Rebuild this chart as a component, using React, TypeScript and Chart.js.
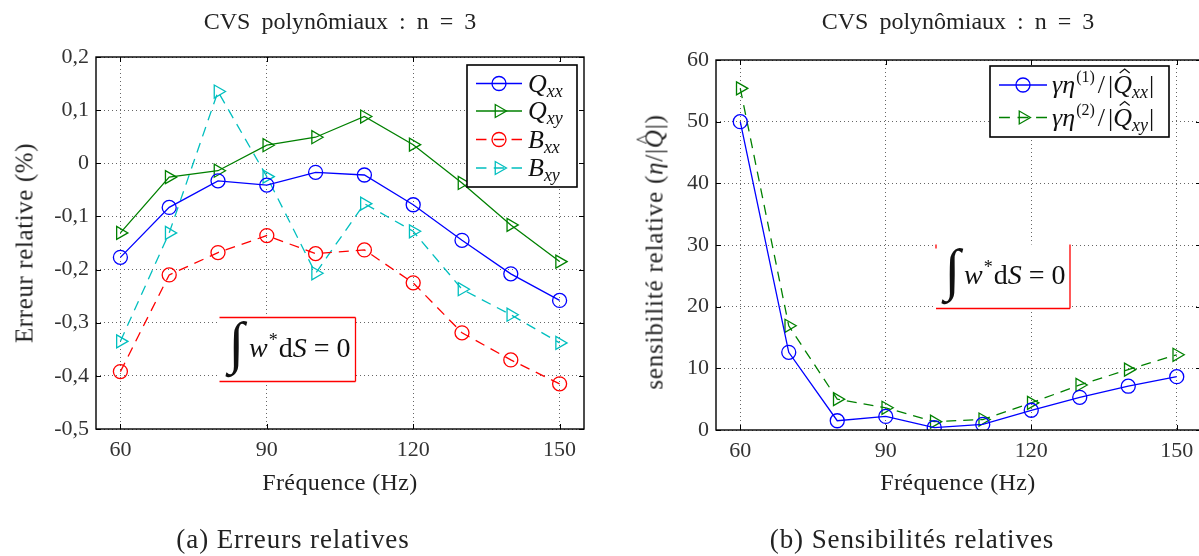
import React, { useEffect, useRef } from 'react';
import { Chart, registerables } from 'chart.js';
Chart.register(...registerables);

const FONT = '"Liberation Serif", "Times New Roman", serif';
const TXT = '#222';

// ---------- data ----------
const frequencies = [60, 70, 80, 90, 100, 110, 120, 130, 140, 150];
const freqTicks = [60, 90, 120, 150];
const errQxx = [-0.177, -0.083, -0.033, -0.041, -0.017, -0.022, -0.078, -0.145, -0.208, -0.258];
const errQxy = [-0.131, -0.026, -0.014, 0.034, 0.049, 0.088, 0.035, -0.037, -0.116, -0.185];
const errBxx = [-0.392, -0.21, -0.168, -0.136, -0.17, -0.163, -0.225, -0.319, -0.37, -0.415];
const errBxy = [-0.335, -0.131, 0.135, -0.025, -0.207, -0.076, -0.128, -0.237, -0.285, -0.338];
const sensQxx = [50.0, 12.6, 1.5, 2.2, 0.4, 0.9, 3.2, 5.3, 7.1, 8.65];
const sensQxy = [55.4, 16.9, 5.0, 3.6, 1.35, 1.7, 4.4, 7.3, 9.8, 12.2];
const errTicks = [-0.5, -0.4, -0.3, -0.2, -0.1, 0, 0.1, 0.2];
const sensTicks = [0, 10, 20, 30, 40, 50, 60];

const BLUE = '#0000ff';
const GREEN = '#008000';
const RED = '#ff0000';
const CYAN = '#00bfbf';
const DASH = [10, 7];
const CIRCLE_R = 7;
const TRI_R = 7.5;

type Seg = { t: string; size: number; italic?: boolean; dy?: number; dx?: number; hat?: boolean };

function drawSegs(ctx: CanvasRenderingContext2D, x: number, y: number, segs: Seg[], color = '#000') {
  ctx.textBaseline = 'alphabetic';
  ctx.textAlign = 'left';
  ctx.fillStyle = color;
  for (const s of segs) {
    x += s.dx || 0;
    ctx.font = `${s.italic ? 'italic ' : ''}${s.size}px ${FONT}`;
    const yy = y + (s.dy || 0);
    ctx.fillText(s.t, x, yy);
    const m = ctx.measureText(s.t);
    if (s.hat) {
      const top = yy - m.actualBoundingBoxAscent - 3;
      const cx = x + m.width / 2 + s.size * 0.08;
      ctx.beginPath();
      ctx.moveTo(cx - 5, top);
      ctx.lineTo(cx, top - 4);
      ctx.lineTo(cx + 5, top);
      ctx.lineWidth = 1.2;
      ctx.strokeStyle = color;
      ctx.stroke();
    }
    x += m.width;
  }
}

function drawMarker(ctx: CanvasRenderingContext2D, kind: string, cx: number, cy: number, color: string) {
  ctx.save();
  ctx.setLineDash([]);
  ctx.strokeStyle = color;
  ctx.lineWidth = 1.3;
  ctx.beginPath();
  if (kind === 'circle') {
    ctx.arc(cx, cy, CIRCLE_R, 0, Math.PI * 2);
  } else {
    const r = TRI_R;
    ctx.moveTo(cx + r, cy);
    ctx.lineTo(cx - r / 2, cy - r * 0.866);
    ctx.lineTo(cx - r / 2, cy + r * 0.866);
    ctx.closePath();
  }
  ctx.stroke();
  ctx.restore();
}

type LegendEntry = { color: string; dashed: boolean; marker: string; segs: Seg[] };
type LegendSpec = { box: [number, number, number, number]; lineX: [number, number]; textX: number; rows: number[]; entries: LegendEntry[] };
type NoteSpec = {
  box: [number, number, number, number];
  edges: { top: boolean; right: boolean; bottom: boolean; left: boolean; stub: boolean };
  intX: number; intTop: number; intBottom: number; textX: number; baseline: number;
};

function drawNote(ctx: CanvasRenderingContext2D, n: NoteSpec) {
  const [x, y, w, h] = n.box;
  ctx.save();
  ctx.fillStyle = '#fff';
  ctx.fillRect(x, y, w, h);
  ctx.strokeStyle = RED;
  ctx.lineWidth = 1.3;
  ctx.beginPath();
  if (n.edges.top) { ctx.moveTo(x, y); ctx.lineTo(x + w, y); }
  if (n.edges.right) { ctx.moveTo(x + w, y); ctx.lineTo(x + w, y + h); }
  if (n.edges.bottom) { ctx.moveTo(x, y + h); ctx.lineTo(x + w, y + h); }
  if (n.edges.left) { ctx.moveTo(x, y); ctx.lineTo(x, y + h); }
  if (n.edges.stub) { ctx.moveTo(x, y); ctx.lineTo(x, y + 4); }
  ctx.stroke();
  // integral sign
  ctx.fillStyle = '#111';
  ctx.font = `100px ${FONT}`;
  const m = ctx.measureText('\u222B');
  const H = m.actualBoundingBoxAscent + m.actualBoundingBoxDescent;
  const k = (n.intBottom - n.intTop) / H;
  ctx.font = `${100 * k}px ${FONT}`;
  ctx.textBaseline = 'alphabetic';
  ctx.textAlign = 'left';
  ctx.fillText('\u222B', n.intX + m.actualBoundingBoxLeft * k, n.intTop + m.actualBoundingBoxAscent * k);
  drawSegs(ctx, n.textX, n.baseline, [
    { t: 'w', size: 28, italic: true },
    { t: '*', size: 18, dy: -11, dx: 1 },
    { t: 'd', size: 28, dx: 1 },
    { t: 'S', size: 28, italic: true },
    { t: '=', size: 28, dx: 7 },
    { t: '0', size: 28, dx: 7 },
  ], '#111');
  ctx.restore();
}

function drawLegend(ctx: CanvasRenderingContext2D, L: LegendSpec) {
  const [x, y, w, h] = L.box;
  ctx.save();
  ctx.fillStyle = '#fff';
  ctx.fillRect(x, y, w, h);
  ctx.strokeStyle = '#000';
  ctx.lineWidth = 1.6;
  ctx.strokeRect(x, y, w, h);
  L.entries.forEach((e, i) => {
    const cy = L.rows[i];
    const len = L.lineX[1] - L.lineX[0];
    ctx.save();
    ctx.strokeStyle = e.color;
    ctx.lineWidth = 1.3;
    if (e.dashed) {
      const d = len / (3 + 2 * 0.7);
      ctx.setLineDash([d, d * 0.7]);
    }
    ctx.beginPath();
    ctx.moveTo(L.lineX[0], cy);
    ctx.lineTo(L.lineX[1], cy);
    ctx.stroke();
    ctx.restore();
    drawMarker(ctx, e.marker, (L.lineX[0] + L.lineX[1]) / 2, cy, e.color);
    drawSegs(ctx, L.textX, cy + 8, e.segs, '#111');
  });
  ctx.restore();
}

function decorPlugin(xTicks: number[], yTicks: number[], legend: LegendSpec, note: NoteSpec) {
  return {
    id: 'decor',
    afterDraw(chart: any) {
      const { ctx, chartArea: a, scales } = chart;
      ctx.save();
      ctx.strokeStyle = '#000';
      ctx.lineWidth = 1;
      ctx.beginPath();
      for (const v of xTicks) {
        const px = Math.round(scales.x.getPixelForValue(v)) + 0.5;
        ctx.moveTo(px, a.bottom); ctx.lineTo(px, a.bottom - 5);
        ctx.moveTo(px, a.top); ctx.lineTo(px, a.top + 5);
      }
      for (const v of yTicks) {
        const py = Math.round(scales.y.getPixelForValue(v)) + 0.5;
        ctx.moveTo(a.left, py); ctx.lineTo(a.left + 5, py);
        ctx.moveTo(a.right, py); ctx.lineTo(a.right - 5, py);
      }
      ctx.stroke();
      ctx.lineWidth = 1.4;
      ctx.strokeRect(a.left, a.top, a.right - a.left, a.bottom - a.top);
      ctx.restore();
      drawNote(ctx, note);
      drawLegend(ctx, legend);
    },
  };
}

function series(values: number[], color: string, dashed: boolean, marker: string) {
  return {
    data: frequencies.map((f, i) => ({ x: f, y: values[i] })),
    borderColor: color,
    borderWidth: 1.3,
    borderDash: dashed ? DASH : [],
    pointStyle: marker === 'circle' ? 'circle' : 'triangle',
    rotation: marker === 'circle' ? 0 : 90,
    pointRadius: marker === 'circle' ? CIRCLE_R : TRI_R,
    pointBorderWidth: 1.3,
    pointBorderColor: color,
    pointBackgroundColor: 'rgba(0,0,0,0)',
    backgroundColor: 'rgba(0,0,0,0)',
    fill: false,
    tension: 0,
  };
}

function buildConfig(opts: {
  datasets: any[]; yMin: number; yMax: number; yTicks: number[]; yFmt: (v: number) => string;
  yWidth: number; padding: any; plugin: any;
}) {
  const tickFont = { family: FONT, size: 22 };
  return {
    type: 'line',
    data: { datasets: opts.datasets },
    options: {
      animation: false,
      responsive: false,
      devicePixelRatio: 1,
      events: [],
      layout: { padding: opts.padding },
      plugins: { legend: { display: false }, tooltip: { enabled: false }, title: { display: false } },
      scales: {
        x: {
          type: 'linear',
          min: 55,
          max: 155,
          afterBuildTicks: (s: any) => { s.ticks = freqTicks.map((v) => ({ value: v })); },
          afterFit: (s: any) => { s.height = 30; },
          ticks: { font: tickFont, color: '#333', padding: 8, autoSkip: false, maxRotation: 0, callback: (v: any) => String(v) },
          grid: { color: '#666', lineWidth: 1, drawTicks: false },
          border: { display: false, dash: [1, 3] },
        },
        y: {
          type: 'linear',
          min: opts.yMin,
          max: opts.yMax,
          afterBuildTicks: (s: any) => { s.ticks = opts.yTicks.map((v) => ({ value: v })); },
          afterFit: (s: any) => { s.width = opts.yWidth; },
          ticks: { font: tickFont, color: '#333', padding: 7, autoSkip: false, callback: (v: any) => opts.yFmt(Number(v)) },
          grid: { color: '#666', lineWidth: 1, drawTicks: false },
          border: { display: false, dash: [1, 3] },
        },
      },
    },
    plugins: [opts.plugin],
  };
}

const fmtComma = (v: number) => (Math.abs(v) < 1e-9 ? '0' : v.toFixed(1).replace('.', ','));

const leftLegend: LegendSpec = {
  box: [467, 65, 110, 122],
  lineX: [476, 522],
  textX: 528,
  rows: [83.5, 111, 139.5, 168],
  entries: [
    { color: BLUE, dashed: false, marker: 'circle', segs: [{ t: 'Q', size: 26, italic: true }, { t: 'xx', size: 18, italic: true, dy: 5 }] },
    { color: GREEN, dashed: false, marker: 'tri', segs: [{ t: 'Q', size: 26, italic: true }, { t: 'xy', size: 18, italic: true, dy: 5 }] },
    { color: RED, dashed: true, marker: 'circle', segs: [{ t: 'B', size: 26, italic: true }, { t: 'xx', size: 18, italic: true, dy: 5 }] },
    { color: CYAN, dashed: true, marker: 'tri', segs: [{ t: 'B', size: 26, italic: true }, { t: 'xy', size: 18, italic: true, dy: 5 }] },
  ],
};

const sensSegs = (n: string, sub: string): Seg[] => [
  { t: '\u03B3\u03B7', size: 26, italic: true },
  { t: `(${n})`, size: 16, dy: -11, dx: 1 },
  { t: '/', size: 26, dx: 3 },
  { t: '|', size: 26, dx: 3 },
  { t: 'Q', size: 26, italic: true, hat: true },
  { t: sub, size: 18, italic: true, dy: 5 },
  { t: '|', size: 26, dx: 1 },
];

// right chart canvas starts at page x = 600
const rightLegend: LegendSpec = {
  box: [390, 66, 179, 71],
  lineX: [399, 447],
  textX: 452,
  rows: [85, 117.5],
  entries: [
    { color: BLUE, dashed: false, marker: 'circle', segs: sensSegs('1', 'xx') },
    { color: GREEN, dashed: true, marker: 'tri', segs: sensSegs('2', 'xy') },
  ],
};

const leftNote: NoteSpec = {
  box: [219.5, 317.5, 136, 64],
  edges: { top: true, right: true, bottom: true, left: false, stub: false },
  intX: 225, intTop: 321, intBottom: 378, textX: 249, baseline: 357,
};

const rightNote: NoteSpec = {
  box: [336, 244.5, 134, 64],
  edges: { top: false, right: true, bottom: true, left: false, stub: true },
  intX: 341, intTop: 248, intBottom: 305, textX: 364, baseline: 284,
};

const baseText: React.CSSProperties = {
  position: 'absolute',
  whiteSpace: 'nowrap',
  fontFamily: FONT,
  color: TXT,
  lineHeight: 1,
};

function Label(props: { x: number; y: number; size: number; rotate?: number; ls?: number; ws?: number; children: React.ReactNode }) {
  return (
    <div
      style={{
        ...baseText,
        left: props.x,
        top: props.y,
        fontSize: props.size,
        letterSpacing: props.ls || 0,
        wordSpacing: props.ws || 0,
        transform: `translate(-50%, -50%)${props.rotate ? ` rotate(${props.rotate}deg)` : ''}`,
      }}
    >
      {props.children}
    </div>
  );
}

export default function App() {
  const c1 = useRef<HTMLCanvasElement>(null);
  const c2 = useRef<HTMLCanvasElement>(null);

  useEffect(() => {
    const cfg1: any = buildConfig({
      datasets: [
        series(errQxx, BLUE, false, 'circle'),
        series(errQxy, GREEN, false, 'tri'),
        series(errBxx, RED, true, 'circle'),
        series(errBxy, CYAN, true, 'tri'),
      ],
      yMin: -0.5,
      yMax: 0.2,
      yTicks: errTicks,
      yFmt: fmtComma,
      yWidth: 96,
      padding: { top: 57, bottom: 97, left: 0, right: 16 },
      plugin: decorPlugin(freqTicks, errTicks, leftLegend, leftNote),
    });
    const cfg2: any = buildConfig({
      datasets: [series(sensQxx, BLUE, false, 'circle'), series(sensQxy, GREEN, true, 'tri')],
      yMin: 0,
      yMax: 60,
      yTicks: sensTicks,
      yFmt: (v) => String(Math.round(v)),
      yWidth: 116,
      padding: { top: 60, bottom: 96, left: 0, right: 11 },
      plugin: decorPlugin(freqTicks, sensTicks, rightLegend, rightNote),
    });
    const ch1 = new Chart(c1.current as HTMLCanvasElement, cfg1);
    const ch2 = new Chart(c2.current as HTMLCanvasElement, cfg2);
    return () => {
      ch1.destroy();
      ch2.destroy();
    };
  }, []);

  return (
    <div style={{ position: 'absolute', left: 0, top: 0, width: 1199, height: 556, overflow: 'hidden', background: '#fff' }}>
      <canvas ref={c1} width={600} height={556} style={{ position: 'absolute', left: 0, top: 0 }} />
      <canvas ref={c2} width={612} height={556} style={{ position: 'absolute', left: 600, top: 0 }} />

      <Label x={340} y={21} size={24} ws={5}>CVS polynômiaux : n = 3</Label>
      <Label x={958} y={21} size={24} ws={5}>CVS polynômiaux : n = 3</Label>

      <Label x={24} y={243} size={25} rotate={-90} ls={0.6}>Erreur relative (%)</Label>
      <Label x={654} y={252} size={25} rotate={-90} ls={0.8}>
        sensibilité relative (<i>η</i>/|
        <span style={{ position: 'relative', display: 'inline-block' }}>
          <i>Q</i>
          <span style={{ position: 'absolute', left: '0.2em', top: '-0.42em', fontSize: '0.8em' }}>^</span>
        </span>
        |)
      </Label>

      <Label x={340} y={482} size={24} ls={0.4}>Fréquence (Hz)</Label>
      <Label x={958} y={482} size={24} ls={0.4}>Fréquence (Hz)</Label>

      <Label x={293} y={539} size={27} ls={0.9}>(a) Erreurs relatives</Label>
      <Label x={912} y={539} size={27} ls={0.9}>(b) Sensibilités relatives</Label>
    </div>
  );
}
